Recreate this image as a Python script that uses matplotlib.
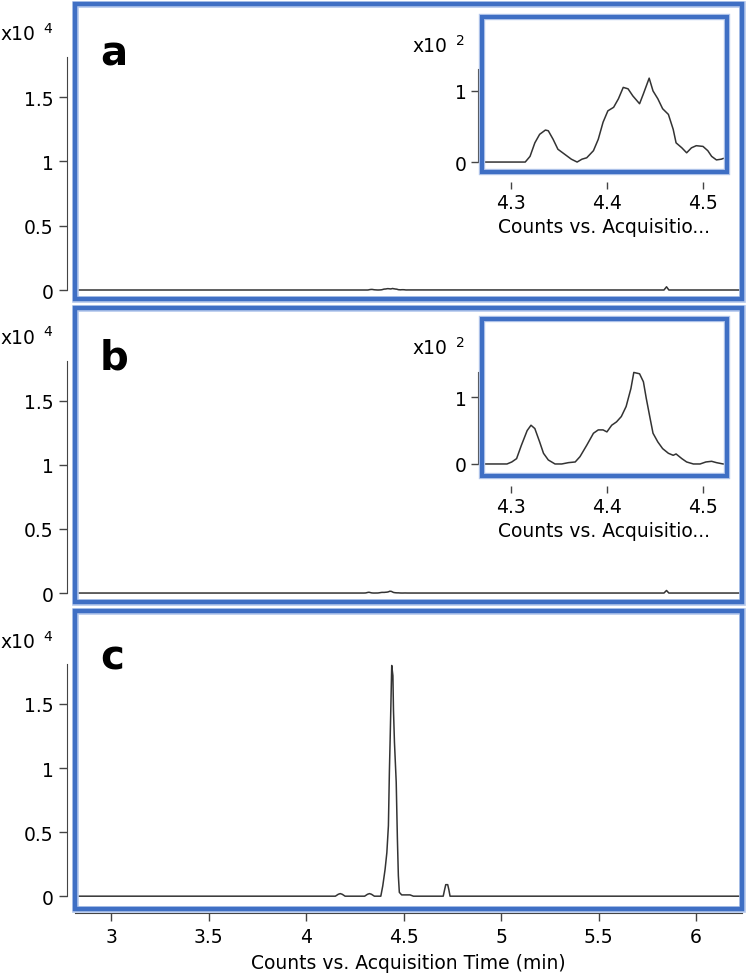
import numpy as np
import matplotlib.pyplot as plt
from matplotlib.patches import Rectangle

plt.rcParams['font.family'] = ['DejaVu Sans']

# --- dane (czas w min, zliczenia) ---
# wstawka a (zoom 4.27-4.52 min)
ins_a_time = [4.273, 4.315, 4.320, 4.325, 4.330, 4.336, 4.339, 4.344, 4.349, 4.356,
              4.363, 4.369, 4.374, 4.379, 4.386, 4.391, 4.396, 4.401, 4.407, 4.412,
              4.417, 4.422, 4.427, 4.434, 4.438, 4.444, 4.448, 4.453, 4.458, 4.464,
              4.469, 4.472, 4.478, 4.483, 4.488, 4.493, 4.500, 4.505, 4.509, 4.514,
              4.519, 4.521]
ins_a_counts = [0, 0, 8, 27, 39, 45, 44, 32, 18, 11,
                4, 0, 4, 6, 16, 32, 56, 72, 77, 89,
                105, 103, 93, 82, 96, 118, 100, 89, 75, 67,
                46, 27, 20, 13, 20, 23, 22, 16, 8, 3,
                4, 5]

# wstawka b
ins_b_time = [4.273, 4.296, 4.301, 4.306, 4.311, 4.317, 4.321, 4.325, 4.330, 4.334,
              4.339, 4.346, 4.353, 4.360, 4.367, 4.372, 4.379, 4.386, 4.391, 4.396,
              4.400, 4.405, 4.410, 4.415, 4.420, 4.425, 4.428, 4.434, 4.438, 4.441,
              4.445, 4.448, 4.453, 4.458, 4.464, 4.469, 4.472, 4.478, 4.483, 4.490,
              4.497, 4.503, 4.509, 4.514, 4.521]
ins_b_counts = [0, 0, 3, 8, 28, 50, 58, 53, 33, 16,
                6, 0, 0, 2, 3, 11, 28, 46, 51, 51,
                48, 58, 63, 71, 86, 113, 137, 135, 123, 98,
                68, 46, 33, 23, 16, 13, 15, 8, 3, 0,
                0, 3, 4, 2, 0]

# reszta chromatogramu a i b (linia bazowa + pik 5.85)
rest_a_time = [2.82, 5.835, 5.848, 5.860, 6.22]
rest_a_counts = [0, 0, 250, 0, 0]
rest_b_time = [2.82, 5.835, 5.848, 5.860, 6.22]
rest_b_counts = [0, 0, 200, 0, 0]

# chromatogram c
c_time = [2.82, 4.150, 4.165, 4.175, 4.185, 4.200, 4.300, 4.315, 4.325, 4.335,
          4.350, 4.383, 4.393, 4.405, 4.414, 4.422, 4.427, 4.431, 4.434, 4.439,
          4.445, 4.448, 4.453, 4.462, 4.468, 4.473, 4.478, 4.490, 4.533, 4.550,
          4.703, 4.710, 4.716, 4.726, 4.732, 4.738, 6.22]
c_counts = [0, 0, 150, 200, 150, 0, 0, 150, 200, 150,
            0, 0, 800, 2100, 3400, 5500, 9700, 12300, 14400, 18000,
            17200, 14500, 12000, 8900, 4500, 1600, 300, 100, 100, 0,
            0, 500, 900, 900, 500, 0, 0]

main_ticks_x = [3, 3.5, 4, 4.5, 5, 5.5, 6]
main_ticks_y = [0, 0.5, 1, 1.5]
ins_ticks_x = [4.3, 4.4, 4.5]
ins_ticks_y = [0, 1]
letters = ["a", "b", "c"]

W, H = 749, 978
blue = "#3f6fc4"
line_col = "#333333"
fs = 13.5

fig = plt.figure(figsize=(W / 100, H / 100), dpi=100)


def px_axes(x0, y0, x1, y1):
    return fig.add_axes([x0 / W, 1 - y1 / H, (x1 - x0) / W, (y1 - y0) / H])


def frame(ax, lw=3.2):
    ax.add_patch(Rectangle((0, 0), 1, 1, transform=ax.transAxes, fill=False,
                           edgecolor="#b5c8ec", lw=lw + 1.6, clip_on=False, zorder=9))
    ax.add_patch(Rectangle((0, 0), 1, 1, transform=ax.transAxes, fill=False,
                           edgecolor=blue, lw=lw, clip_on=False, zorder=10))


def sci_label(x, y, exp):
    fig.text(x / W, 1 - y / H, "x10", fontsize=fs, ha="center", va="center")
    fig.text((x + 30) / W, 1 - (y - 6) / H, exp, fontsize=10, ha="center", va="center")


def sorted_trace(t1, c1, t2, c2):
    t = np.array(t1 + t2)
    c = np.array(c1 + c2, dtype=float)
    o = np.argsort(t)
    return t[o], c[o]


ta, ca = sorted_trace(ins_a_time, ins_a_counts, rest_a_time, rest_a_counts)
tb, cb = sorted_trace(ins_b_time, ins_b_counts, rest_b_time, rest_b_counts)
traces = [(ta, ca), (tb, cb), (np.array(c_time), np.array(c_counts, dtype=float))]

panel_px = [(75, 5, 742, 300), (75, 309, 742, 603), (75, 612, 742, 910)]
ylims = [(-0.07, 2.225), (-0.07, 2.225), (-0.10, 2.225)]
letter_y = [65, 370, 670]
sci_y = [35, 338, 643]

for i in range(3):
    ax = px_axes(*panel_px[i])
    t, c = traces[i]
    ax.plot(t, c / 1e4, color=line_col, lw=1.1, zorder=3)
    ax.set_xlim(2.815, 6.235)
    ax.set_ylim(*ylims[i])
    for s in ["top", "right"]:
        ax.spines[s].set_visible(False)
    ax.spines["left"].set_position(("outward", 6))
    ax.spines["left"].set_bounds(0, 1.81)
    ax.spines["left"].set_color("#444444")
    ax.set_yticks(main_ticks_y)
    ax.set_yticklabels(["0", "0.5", "1", "1.5"])
    ax.tick_params(axis="y", direction="out", length=6, width=1, color="#444444",
                   labelsize=fs, pad=3.5)
    if i < 2:
        ax.spines["bottom"].set_visible(False)
        ax.set_xticks([])
    else:
        ax.spines["bottom"].set_position(("outward", 3))
        ax.spines["bottom"].set_color("#444444")
        ax.set_xticks(main_ticks_x)
        ax.set_xticklabels(["3", "3.5", "4", "4.5", "5", "5.5", "6"])
        ax.tick_params(axis="x", direction="out", length=6, width=1, color="#444444",
                       labelsize=fs, pad=4)
        ax.set_xlabel("Counts vs. Acquisition Time (min)", fontsize=fs, labelpad=5)
    frame(ax)
    fig.text(100 / W, 1 - letter_y[i] / H, letters[i], fontsize=29, fontweight="bold",
             ha="left", va="baseline")
    sci_label(18, sci_y[i], "4")

# --- wstawki ---
inset_px = [(482, 18, 727, 173), (482, 320, 727, 477)]
inset_ylim = [(-0.14, 2.04), (-0.18, 2.17)]
inset_top = [1.31, 1.38]
inset_sci_y = [47, 349]
inset_data = [(ins_a_time, ins_a_counts), (ins_b_time, ins_b_counts)]

for i in range(2):
    ax = px_axes(*inset_px[i])
    t, c = inset_data[i]
    ax.plot(t, np.array(c) / 100, color=line_col, lw=1.1, zorder=3)
    ax.set_xlim(4.27, 4.525)
    ax.set_ylim(*inset_ylim[i])
    for s in ["top", "right"]:
        ax.spines[s].set_visible(False)
    ax.spines["bottom"].set_visible(False)
    ax.spines["bottom"].set_position(("outward", 7))
    ax.spines["left"].set_position(("outward", 3))
    ax.spines["left"].set_bounds(0, inset_top[i])
    ax.spines["left"].set_color("#444444")
    ax.set_yticks(ins_ticks_y)
    ax.set_yticklabels(["0", "1"])
    ax.set_xticks(ins_ticks_x)
    ax.set_xticklabels(["4.3", "4.4", "4.5"])
    ax.tick_params(direction="out", length=5, width=1, color="#444444",
                   labelsize=fs, pad=3)
    ax.set_xlabel("Counts vs. Acquisitio...", fontsize=fs, labelpad=4)
    frame(ax, lw=3.0)
    sci_label(430, inset_sci_y[i], "2")

plt.savefig("out.png", dpi=100)
